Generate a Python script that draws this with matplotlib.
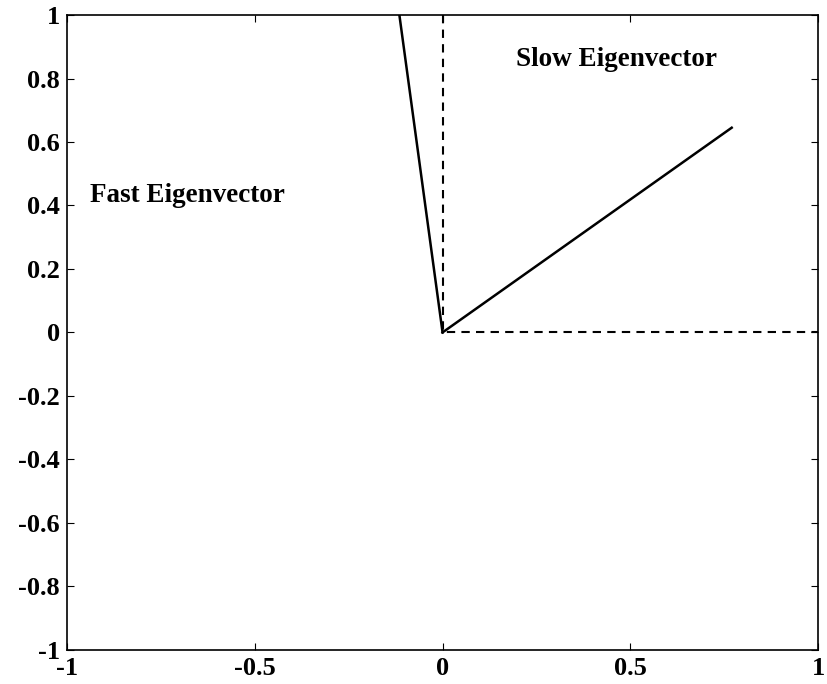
import matplotlib
matplotlib.use('Agg')
import matplotlib.pyplot as plt

# eigenvector directions (end points from the origin)
fast_vec = [-0.115, 1.0]
slow_vec = [0.77, 0.645]
# dashed reference axes
axis_x = [0, 0, 1]
axis_y = [1, 0, 0]

xticks = [-1, -0.5, 0, 0.5, 1]
yticks = [-1, -0.8, -0.6, -0.4, -0.2, 0, 0.2, 0.4, 0.6, 0.8, 1]

plt.rcParams['font.family'] = ['Liberation Serif', 'DejaVu Serif']

fig = plt.figure(figsize=(8.28, 6.84), dpi=100)
ax = fig.add_axes([0.081, 0.05, 0.907, 0.928])

ax.plot(axis_x, axis_y, 'k--', lw=1.5, dashes=(4, 3))
ax.plot([0, fast_vec[0]], [0, fast_vec[1]], 'k-', lw=1.8)
ax.plot([0, slow_vec[0]], [0, slow_vec[1]], 'k-', lw=1.8)

ax.text(-0.94, 0.43, 'Fast Eigenvector', fontsize=19.5, fontweight='bold', va='center')
ax.text(0.195, 0.86, 'Slow Eigenvector', fontsize=19.5, fontweight='bold', va='center')

ax.set_xlim(-1, 1)
ax.set_ylim(-1, 1)
ax.set_xticks(xticks)
ax.set_xticklabels(['-1', '-0.5', '0', '0.5', '1'])
ax.set_yticks(yticks)
ax.set_yticklabels(['-1', '-0.8', '-0.6', '-0.4', '-0.2', '0', '0.2', '0.4', '0.6', '0.8', '1'])
ax.tick_params(direction='in', top=True, right=True, length=5, labelsize=19, pad=5)
for lab in ax.get_xticklabels() + ax.get_yticklabels():
    lab.set_fontweight('bold')
for s in ax.spines.values():
    s.set_linewidth(1.2)

fig.savefig('out.png', dpi=100)
